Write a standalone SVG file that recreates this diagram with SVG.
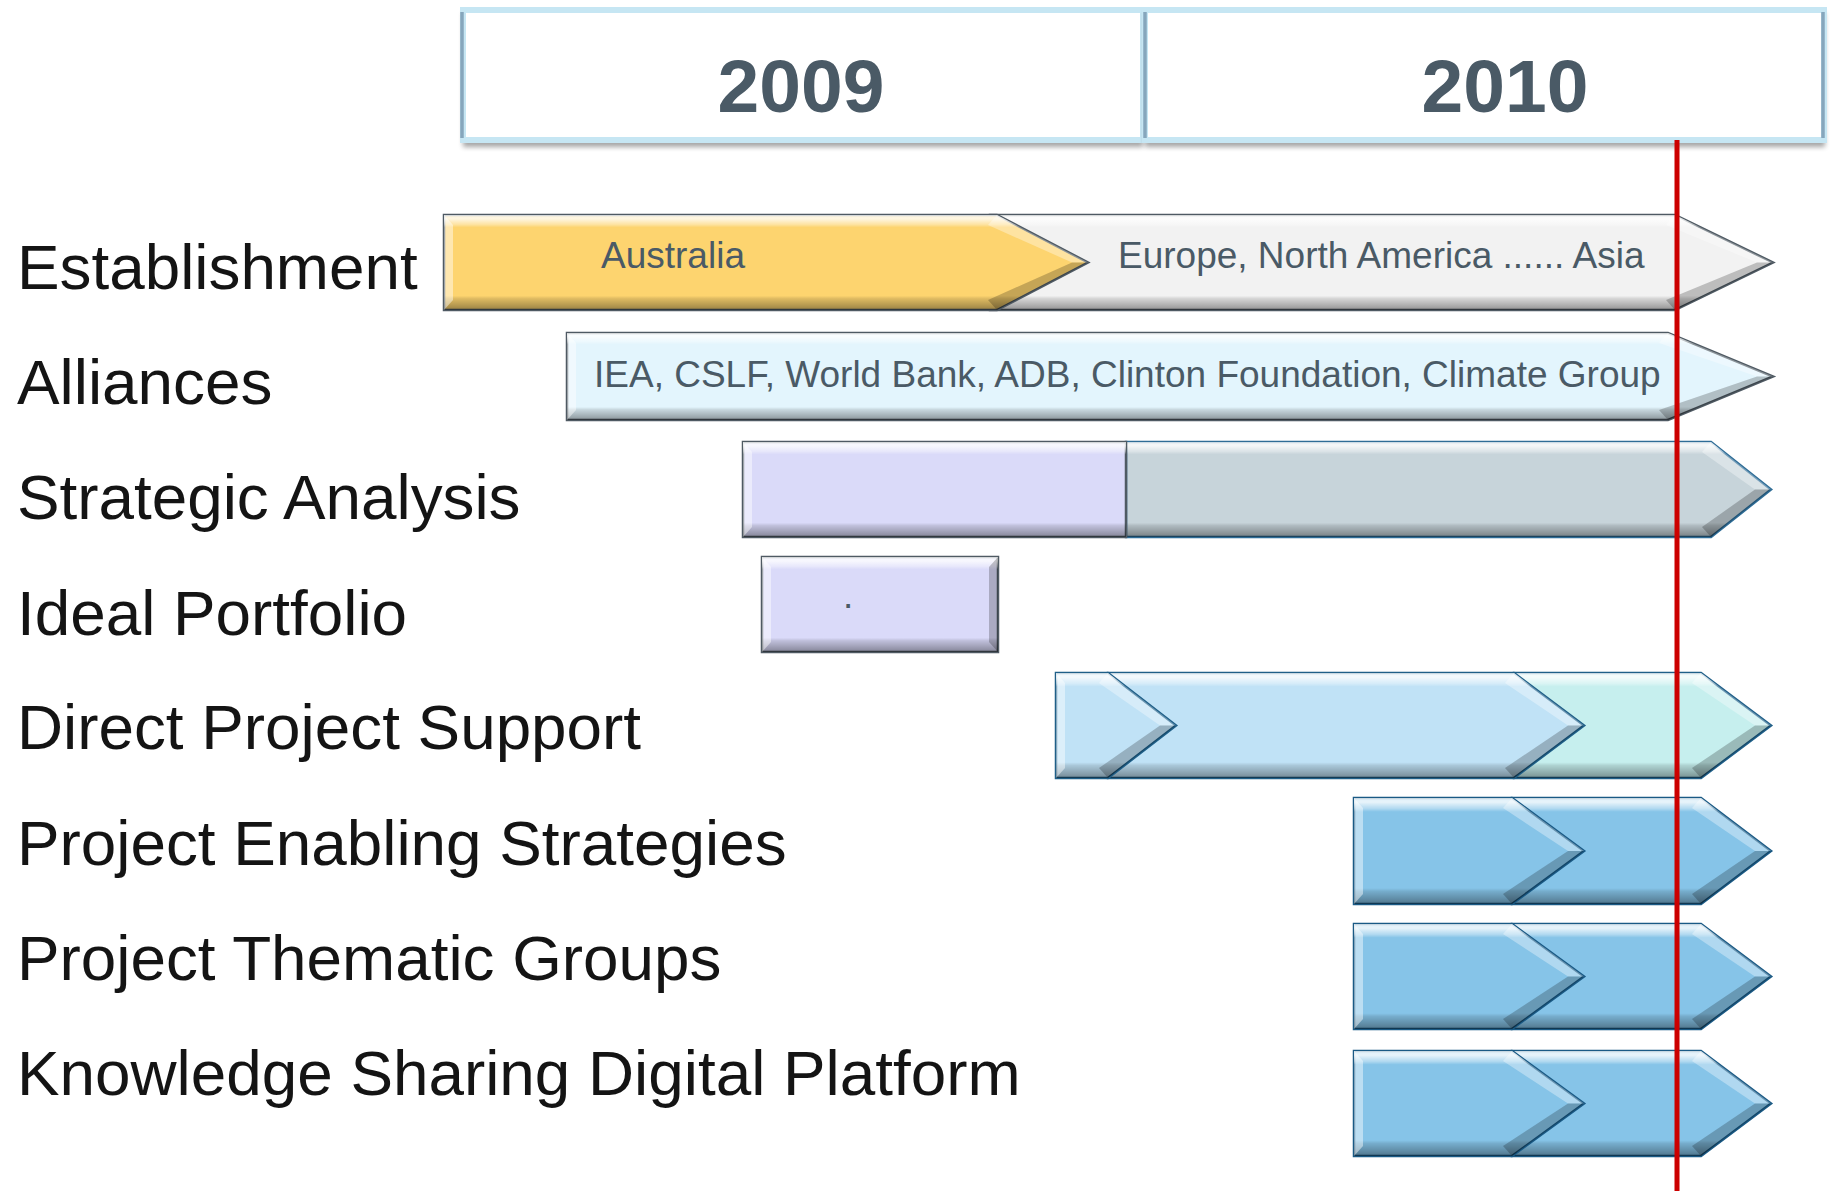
<svg xmlns="http://www.w3.org/2000/svg" width="1833" height="1191" viewBox="0 0 1833 1191">
<defs>
  <linearGradient id="bevel" x1="0" y1="0" x2="0" y2="1">
    <stop offset="0" stop-color="#fff" stop-opacity="0.75"/>
    <stop offset="0.04" stop-color="#fff" stop-opacity="0.8"/>
    <stop offset="0.1" stop-color="#fff" stop-opacity="0.35"/>
    <stop offset="0.13" stop-color="#fff" stop-opacity="0"/>
    <stop offset="0.85" stop-color="#000" stop-opacity="0"/>
    <stop offset="0.88" stop-color="#000" stop-opacity="0.12"/>
    <stop offset="0.96" stop-color="#000" stop-opacity="0.3"/>
    <stop offset="1" stop-color="#000" stop-opacity="0.4"/>
  </linearGradient>
  <filter id="shadow" x="-5%" y="-20%" width="110%" height="150%">
    <feGaussianBlur stdDeviation="2.5"/>
  </filter>
  <style>
    .lbl { font-family: "Liberation Sans", Arial, sans-serif; font-size: 63.8px; fill: #141414; }
    .yr { font-family: "Liberation Sans", Arial, sans-serif; font-size: 75px; font-weight: bold; fill: #4a5a66; text-anchor: middle; }
    .bt { font-family: "Liberation Sans", Arial, sans-serif; font-size: 37px; fill: #4a5a66; }
    .bev { fill: url(#bevel); stroke: none; }
    .fd { fill: #000; opacity: 0.22; }
    .fl { fill: #fff; opacity: 0.35; }
    .fll { fill: #fff; opacity: 0.45; }
    .yel { fill: #fdd46f; stroke: #4f5a63; stroke-width: 2.5; }
    .wht { fill: #f2f2f2; stroke: #4f5a63; stroke-width: 2.5; }
    .ally { fill: #e3f5fd; stroke: #4f5a63; stroke-width: 2.5; }
    .lav { fill: #dadaf9; stroke: #4f5a63; stroke-width: 2.5; }
    .gry { fill: #c7d4da; stroke: #2e6c96; stroke-width: 2.5; }
    .lb { fill: #c0e2f6; stroke: #1f5f88; stroke-width: 2.5; }
    .cy { fill: #c6efee; stroke: #1f5f88; stroke-width: 2.5; }
    .mb { fill: #86c4e8; stroke: #1a5a85; stroke-width: 2.5; }
    .yrbox { fill: #fff; stroke: #c6e6f3; stroke-width: 6; }
    .yredge { stroke: #86a6bc; stroke-width: 3.5; }
  </style>
</defs>
<rect width="1833" height="1191" fill="#fff"/>

<g id="year-2009">
  <rect x="463" y="13" width="680" height="134" fill="#000" opacity="0.35" filter="url(#shadow)"/>
  <rect class="yrbox" x="463" y="10" width="680" height="130"/>
  <line class="yredge" x1="462" y1="12" x2="462" y2="138"/>
  <text class="yr" x="801" y="112">2009</text>
</g>
<g id="year-2010">
  <rect x="1145" y="13" width="680" height="134" fill="#000" opacity="0.35" filter="url(#shadow)"/>
  <rect class="yrbox" x="1145" y="10" width="679" height="130"/>
  <line class="yredge" x1="1145" y1="12" x2="1145" y2="138"/>
  <line class="yredge" x1="1823" y1="12" x2="1823" y2="138"/>
  <text class="yr" x="1505" y="112">2010</text>
</g>

<g id="label-establishment"><text class="lbl" x="17" y="289">Establishment</text></g>
<g id="label-alliances"><text class="lbl" x="17" y="404">Alliances</text></g>
<g id="label-strategic"><text class="lbl" x="17" y="519">Strategic Analysis</text></g>
<g id="label-ideal"><text class="lbl" x="17" y="635">Ideal Portfolio</text></g>
<g id="label-direct"><text class="lbl" x="17" y="749">Direct Project Support</text></g>
<g id="label-enabling"><text class="lbl" x="17" y="865">Project Enabling Strategies</text></g>
<g id="label-thematic"><text class="lbl" x="17" y="980">Project Thematic Groups</text></g>
<g id="label-knowledge"><text class="lbl" x="17" y="1095">Knowledge Sharing Digital Platform</text></g>

<g id="bar-establishment-world">
  <polygon class="wht" points="990,215 1675,215 1773,262.5 1675,310 990,310"/>
  <polygon class="bev" points="990,215 1675,215 1773,262.5 1675,310 990,310"/>
  <polygon class="fl" points="1675,215 1773,262.5 1757,262.5 1666,225"/>
  <polygon class="fd" points="1675,310 1773,262.5 1757,262.5 1666,300"/>
  <text class="bt" x="1118" y="268">Europe, North America ...... Asia</text>
</g>
<g id="bar-establishment-australia">
  <polygon class="yel" points="444,215 997,215 1088,262.5 997,310 444,310"/>
  <polygon class="bev" points="444,215 997,215 1088,262.5 997,310 444,310"/>
  <polygon class="fll" points="444,215 453,225 453,300 444,310"/>
  <polygon class="fl" points="997,215 1088,262.5 1072,262.5 988,225"/>
  <polygon class="fd" points="997,310 1088,262.5 1072,262.5 988,300"/>
  <text class="bt" x="601" y="268">Australia</text>
</g>

<g id="bar-alliances">
  <polygon class="ally" points="567,333 1668,333 1773,376.5 1668,420 567,420"/>
  <polygon class="bev" points="567,333 1668,333 1773,376.5 1668,420 567,420"/>
  <polygon class="fll" points="567,333 576,343 576,410 567,420"/>
  <polygon class="fl" points="1668,333 1773,376.5 1757,376.5 1659,343"/>
  <polygon class="fd" points="1668,420 1773,376.5 1757,376.5 1659,410"/>
  <text class="bt" x="594" y="387" font-size="37.3">IEA, CSLF, World Bank, ADB, Clinton Foundation, Climate Group</text>
</g>

<g id="bar-strategic">
  <polygon class="gry" points="1126,442 1711,442 1771,489.5 1711,537 1126,537"/>
  <polygon class="bev" points="1126,442 1711,442 1771,489.5 1711,537 1126,537"/>
  <polygon class="fl" points="1711,442 1771,489.5 1755,489.5 1702,452"/>
  <polygon class="fd" points="1711,537 1771,489.5 1755,489.5 1702,527"/>
  <rect class="lav" x="743" y="442" width="383" height="95"/>
  <rect class="bev" x="743" y="442" width="383" height="95"/>
  <polygon class="fll" points="743,442 752,452 752,527 743,537"/>
</g>

<g id="bar-ideal">
  <rect class="lav" x="762" y="557" width="236" height="95"/>
  <rect class="bev" x="762" y="557" width="236" height="95"/>
  <polygon class="fll" points="762,557 771,567 771,642 762,652"/>
  <polygon class="fd" points="998,557 989,567 989,642 998,652"/>
  <text class="bt" x="843" y="608" font-size="20">.</text>
</g>

<g id="bar-direct">
  <polygon class="cy" points="1514,673 1701,673 1771,725.5 1701,778 1514,778"/>
  <polygon class="bev" points="1514,673 1701,673 1771,725.5 1701,778 1514,778"/>
  <polygon class="fl" points="1701,673 1771,725.5 1755,725.5 1692,683"/>
  <polygon class="fd" points="1701,778 1771,725.5 1755,725.5 1692,768"/>
  <polygon class="lb" points="1108,673 1514,673 1584,725.5 1514,778 1108,778"/>
  <polygon class="bev" points="1108,673 1514,673 1584,725.5 1514,778 1108,778"/>
  <polygon class="fl" points="1514,673 1584,725.5 1568,725.5 1505,683"/>
  <polygon class="fd" points="1514,778 1584,725.5 1568,725.5 1505,768"/>
  <polygon class="lb" points="1056,673 1108,673 1176,725.5 1108,778 1056,778"/>
  <polygon class="bev" points="1056,673 1108,673 1176,725.5 1108,778 1056,778"/>
  <polygon class="fll" points="1056,673 1065,683 1065,768 1056,778"/>
  <polygon class="fl" points="1108,673 1176,725.5 1160,725.5 1099,683"/>
  <polygon class="fd" points="1108,778 1176,725.5 1160,725.5 1099,768"/>
</g>

<g id="bar-enabling">
  <polygon class="mb" points="1512,798 1701,798 1771,851 1701,904 1512,904"/>
  <polygon class="bev" points="1512,798 1701,798 1771,851 1701,904 1512,904"/>
  <polygon class="fl" points="1701,798 1771,851 1755,851 1692,808"/>
  <polygon class="fd" points="1701,904 1771,851 1755,851 1692,894"/>
  <polygon class="mb" points="1354,798 1512,798 1584,851 1512,904 1354,904"/>
  <polygon class="bev" points="1354,798 1512,798 1584,851 1512,904 1354,904"/>
  <polygon class="fll" points="1354,798 1363,808 1363,894 1354,904"/>
  <polygon class="fl" points="1512,798 1584,851 1568,851 1503,808"/>
  <polygon class="fd" points="1512,904 1584,851 1568,851 1503,894"/>
</g>

<g id="bar-thematic">
  <polygon class="mb" points="1512,924 1701,924 1771,976.5 1701,1029 1512,1029"/>
  <polygon class="bev" points="1512,924 1701,924 1771,976.5 1701,1029 1512,1029"/>
  <polygon class="fl" points="1701,924 1771,976.5 1755,976.5 1692,934"/>
  <polygon class="fd" points="1701,1029 1771,976.5 1755,976.5 1692,1019"/>
  <polygon class="mb" points="1354,924 1512,924 1584,976.5 1512,1029 1354,1029"/>
  <polygon class="bev" points="1354,924 1512,924 1584,976.5 1512,1029 1354,1029"/>
  <polygon class="fll" points="1354,924 1363,934 1363,1019 1354,1029"/>
  <polygon class="fl" points="1512,924 1584,976.5 1568,976.5 1503,934"/>
  <polygon class="fd" points="1512,1029 1584,976.5 1568,976.5 1503,1019"/>
</g>

<g id="bar-knowledge">
  <polygon class="mb" points="1512,1051 1701,1051 1771,1103.5 1701,1156 1512,1156"/>
  <polygon class="bev" points="1512,1051 1701,1051 1771,1103.5 1701,1156 1512,1156"/>
  <polygon class="fl" points="1701,1051 1771,1103.5 1755,1103.5 1692,1061"/>
  <polygon class="fd" points="1701,1156 1771,1103.5 1755,1103.5 1692,1146"/>
  <polygon class="mb" points="1354,1051 1512,1051 1584,1103.5 1512,1156 1354,1156"/>
  <polygon class="bev" points="1354,1051 1512,1051 1584,1103.5 1512,1156 1354,1156"/>
  <polygon class="fll" points="1354,1051 1363,1061 1363,1146 1354,1156"/>
  <polygon class="fl" points="1512,1051 1584,1103.5 1568,1103.5 1503,1061"/>
  <polygon class="fd" points="1512,1156 1584,1103.5 1568,1103.5 1503,1146"/>
</g>

<g id="connectors">
  <line id="today-line" x1="1677" y1="140" x2="1677" y2="1191" stroke="#cc0000" stroke-width="5"/>
</g>
</svg>
